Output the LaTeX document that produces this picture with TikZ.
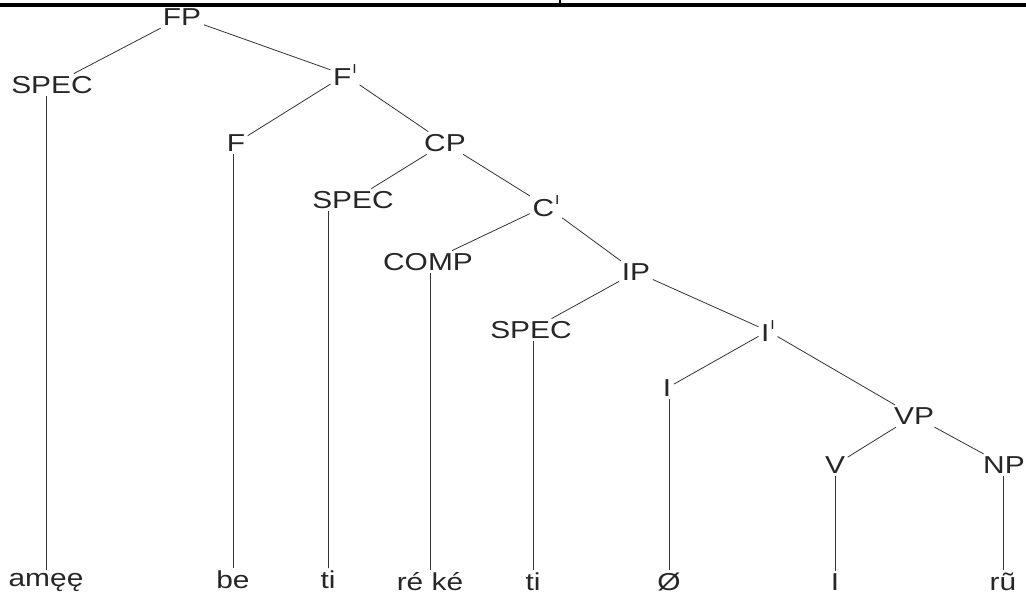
\documentclass[tikz,border=0pt]{standalone}
\usepackage{fontspec}
\newfontfamily\tf[FakeStretch=1.22]{Liberation Sans}
\newcommand\pr{\kern1pt\raisebox{0.5em}{\fontsize{13}{13}\selectfont I}}
\begin{document}
\begin{tikzpicture}[x=1pt,y=-1pt,
  lab/.style={font=\tf\fontsize{24.5}{27}\selectfont, inner sep=2.5pt, text=black!85},
  br/.style={draw=black!80, line width=0.8pt}]
\useasboundingbox (0,0) rectangle (1026,601);
\draw[line width=4pt] (0,5) -- (1026,5);
\draw[line width=2pt] (560,0) -- (560,4);
% inner nodes
\node[lab] (fp) at (182,17) {FP};
\node[lab] (spec1) at (52,85) {SPEC};
\node[lab] (fbar) at (345,75) {F\pr};
\node[lab] (f) at (236,143) {F};
\node[lab] (cp) at (445,143) {CP};
\node[lab] (spec2) at (353,200) {SPEC};
\node[lab] (cbar) at (546,206) {C\pr};
\node[lab] (comp) at (428,262) {COMP};
\node[lab] (ip) at (636,272) {IP};
\node[lab] (spec3) at (531,330) {SPEC};
\node[lab] (ibar) at (768,331) {I\pr};
\node[lab] (i) at (667,388) {I};
\node[lab] (vp) at (914,416) {VP};
\node[lab] (v) at (835,465) {V};
\node[lab] (np) at (1004,465) {NP};
% leaves
\node[lab] (l1) at (46,582) {amęę};
\node[lab] (l2) at (233,580) {be};
\node[lab] (l3) at (328,580) {ti};
\node[lab] (l4) at (430,582) {ré ké};
\node[lab] (l5) at (533,582) {ti};
\node[lab] (l6) at (669,582) {Ø};
\node[lab] (l7) at (835,582) {I};
\node[lab] (l8) at (1003,582) {rũ};
% branches
\foreach \a/\b in {fp/spec1, fp/fbar, fbar/f, fbar/cp, cp/spec2, cp/cbar, cbar/comp, cbar/ip, ip/spec3, ip/ibar, ibar/i, ibar/vp, vp/v, vp/np}
  \draw[br] (\a) -- (\b);
\foreach \a/\b in {spec1/l1, f/l2, spec2/l3, comp/l4, spec3/l5, i/l6, v/l7, np/l8}
  \draw[br] (\b.north) -- (\b.north |- \a.south);
\end{tikzpicture}
\end{document}
